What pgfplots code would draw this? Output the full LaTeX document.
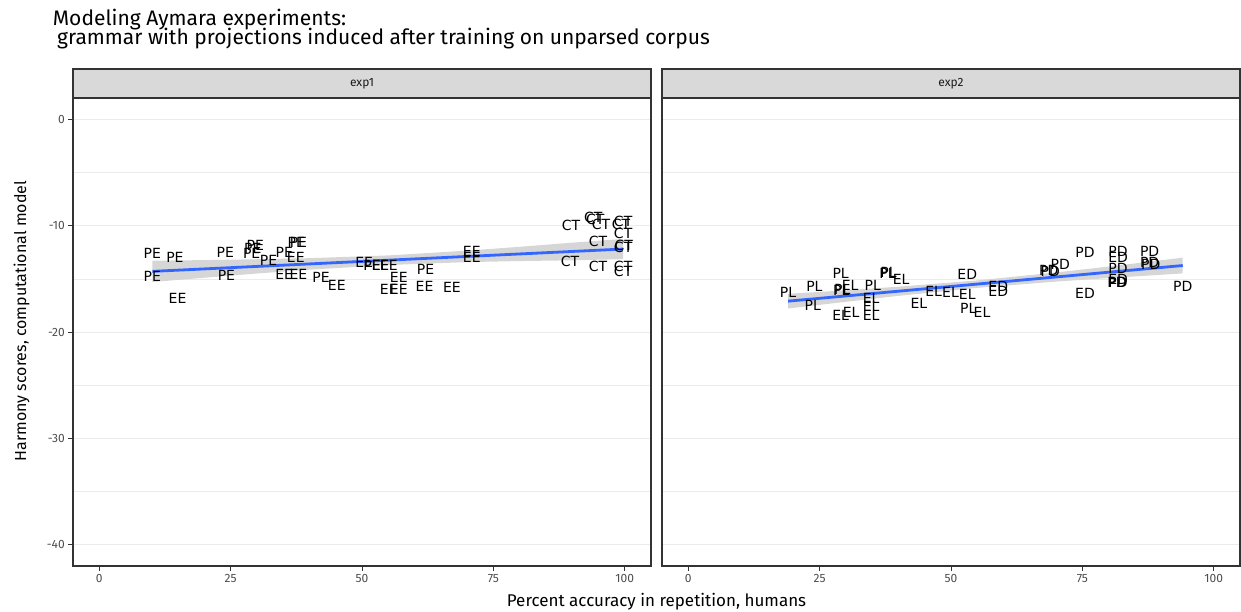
\documentclass[border=0pt]{standalone}
\usepackage{fontspec}
\setmainfont{Fira Sans}
\newfontfamily\labfont{DejaVu Sans}
\usepackage{pgfplots}
\pgfplotsset{compat=1.18}
\definecolor{bandgray}{HTML}{D6D6D6}
\definecolor{lineblue}{HTML}{3366FF}
\definecolor{dark}{HTML}{333333}
\definecolor{ticktext}{HTML}{4D4D4D}
\definecolor{gridc}{HTML}{EBEBEB}
\definecolor{stripgray}{HTML}{D9D9D9}
\definecolor{striptext}{HTML}{1A1A1A}
\pgfplotsset{
  panel/.style={
    scale only axis, width=578pt, height=468pt,
    xmin=-5, xmax=105, ymin=-42, ymax=2,
    axis line style={draw=dark, line width=1.3pt},
    xtick={0,25,50,75,100}, ytick={0,-10,-20,-30,-40},
    minor ytick={-5,-15,-25,-35},
    ymajorgrids, yminorgrids,
    major grid style={gridc, line width=0.9pt},
    minor grid style={gridc, line width=0.5pt},
    tick align=outside, tick pos=left,
    major tick length=4.7pt, minor tick length=0pt,
    tick style={dark, line width=1pt},
    ticklabel style={font=\fontsize{12}{12}\selectfont, text=ticktext},
    /pgf/number format/assume math mode=true,
  },
  lab/.style={only marks, mark=text, text mark={#1}, text mark as node=true,
    text mark style={font=\labfont\fontsize{14}{14}\selectfont, text=black, inner sep=0pt, anchor=center}},
}
\begin{document}
\begin{tikzpicture}
\useasboundingbox (0,0) rectangle (1241pt,611pt);
% ---------- exp1 ----------
\begin{axis}[panel, at={(73pt,45pt)}, anchor=south west]
\addplot[fill=bandgray, draw=none] coordinates {
 (10.1,-13.30) (20,-13.24) (30,-13.16) (40,-13.06) (55,-12.80) (70,-12.35) (80,-11.99) (90,-11.60) (99.7,-11.25)
 (99.7,-13.15) (90,-13.26) (80,-13.33) (70,-13.43) (55,-13.70) (40,-14.14) (30,-14.50) (20,-14.90) (10.1,-15.30)
} -- cycle;
\addplot[lineblue, line width=2.8pt] coordinates {(10.1,-14.3) (99.7,-12.2)};
\addplot[lab=PE] coordinates {
 (10.1,-12.6) (14.4,-13.0) (10.1,-14.8) (24.0,-12.5) (24.2,-14.7) (29.2,-12.1) (29.7,-11.9)
 (29.0,-12.6) (32.2,-13.3) (35.2,-12.5) (37.5,-11.6) (37.9,-11.6) (42.2,-14.9) (51.9,-13.7) (62.1,-14.1)
};
\addplot[lab=EE] coordinates {
 (14.9,-16.8) (37.4,-13.0) (35.2,-14.6) (37.9,-14.6) (45.2,-15.6) (50.4,-13.5) (53.5,-13.7)
 (55.1,-13.7) (57.0,-14.9) (55.1,-16.0) (57.0,-16.0) (61.9,-15.7) (67.1,-15.8) (70.9,-12.4) (70.9,-13.0)
};
\addplot[lab=CT] coordinates {
 (89.8,-10.0) (94.0,-9.2) (94.4,-9.4) (95.5,-9.9) (99.3,-9.9) (99.7,-9.6) (99.7,-10.7)
 (94.9,-11.5) (99.7,-12.0) (99.8,-11.9) (89.6,-13.4) (94.9,-13.8) (99.7,-13.8) (99.7,-14.3)
};
\end{axis}
% ---------- exp2 ----------
\begin{axis}[panel, at={(662pt,45pt)}, anchor=south west, yticklabels={}, ytick style={draw=none}]
\addplot[fill=bandgray, draw=none] coordinates {
 (19.0,-16.41) (30,-16.08) (40,-15.74) (55,-15.15) (70,-14.40) (80,-13.85) (94.1,-13.01)
 (94.1,-14.49) (80,-14.93) (70,-15.26) (55,-15.85) (40,-16.60) (30,-17.16) (19.0,-17.79)
} -- cycle;
\addplot[lineblue, line width=2.8pt] coordinates {(19.0,-17.1) (94.1,-13.75)};
\addplot[lab=PL] coordinates {
 (19.0,-16.3) (24.0,-15.7) (23.7,-17.5) (29.0,-14.5) (29.1,-16.1) (29.3,-16.0)
 (35.1,-15.6) (37.9,-14.5) (38.1,-14.4) (53.3,-17.8)
};
\addplot[lab=EL] coordinates {
 (30.8,-15.6) (29.0,-18.4) (31.0,-18.2) (34.8,-16.8) (34.8,-17.6) (34.8,-18.4)
 (40.5,-15.1) (43.9,-17.3) (46.7,-16.2) (49.9,-16.3) (53.1,-16.5) (55.9,-18.2)
};
\addplot[lab=ED] coordinates {
 (53.1,-14.6) (59.0,-15.7) (59.0,-16.2) (81.8,-13.0) (81.8,-15.1) (75.5,-16.4)
};
\addplot[lab=PD] coordinates {
 (68.6,-14.2) (68.9,-14.3) (70.8,-13.6) (75.5,-12.5) (81.8,-12.4) (81.8,-14.0)
 (81.8,-15.3) (81.6,-15.3) (87.8,-12.4) (87.8,-13.5) (88.0,-13.6) (94.1,-15.7)
};
\end{axis}
% ---------- strips ----------
\draw[fill=stripgray, draw=dark, line width=1.3pt] (73pt,513pt) rectangle (651pt,542pt);
\draw[fill=stripgray, draw=dark, line width=1.3pt] (662pt,513pt) rectangle (1240pt,542pt);
\node[text=striptext, font=\fontsize{12}{12}\selectfont] at (362pt,527.5pt) {exp1};
\node[text=striptext, font=\fontsize{12}{12}\selectfont] at (951pt,527.5pt) {exp2};
% ---------- titles ----------
\node[anchor=base west, inner sep=0pt, font=\fontsize{21}{21}\selectfont] at (52.7pt,585pt) {Modeling Aymara experiments:};
\node[anchor=base west, inner sep=0pt, font=\fontsize{21}{21}\selectfont] at (57pt,566pt) {grammar with projections induced after training on unparsed corpus};
\node[anchor=base, inner sep=0pt, font=\fontsize{17}{17}\selectfont] at (656.5pt,4.3pt) {Percent accuracy in repetition, humans};
\node[anchor=base, rotate=90, inner sep=0pt, font=\fontsize{16}{16}\selectfont] at (26pt,290pt) {Harmony scores, computational model};
\end{tikzpicture}
\end{document}
